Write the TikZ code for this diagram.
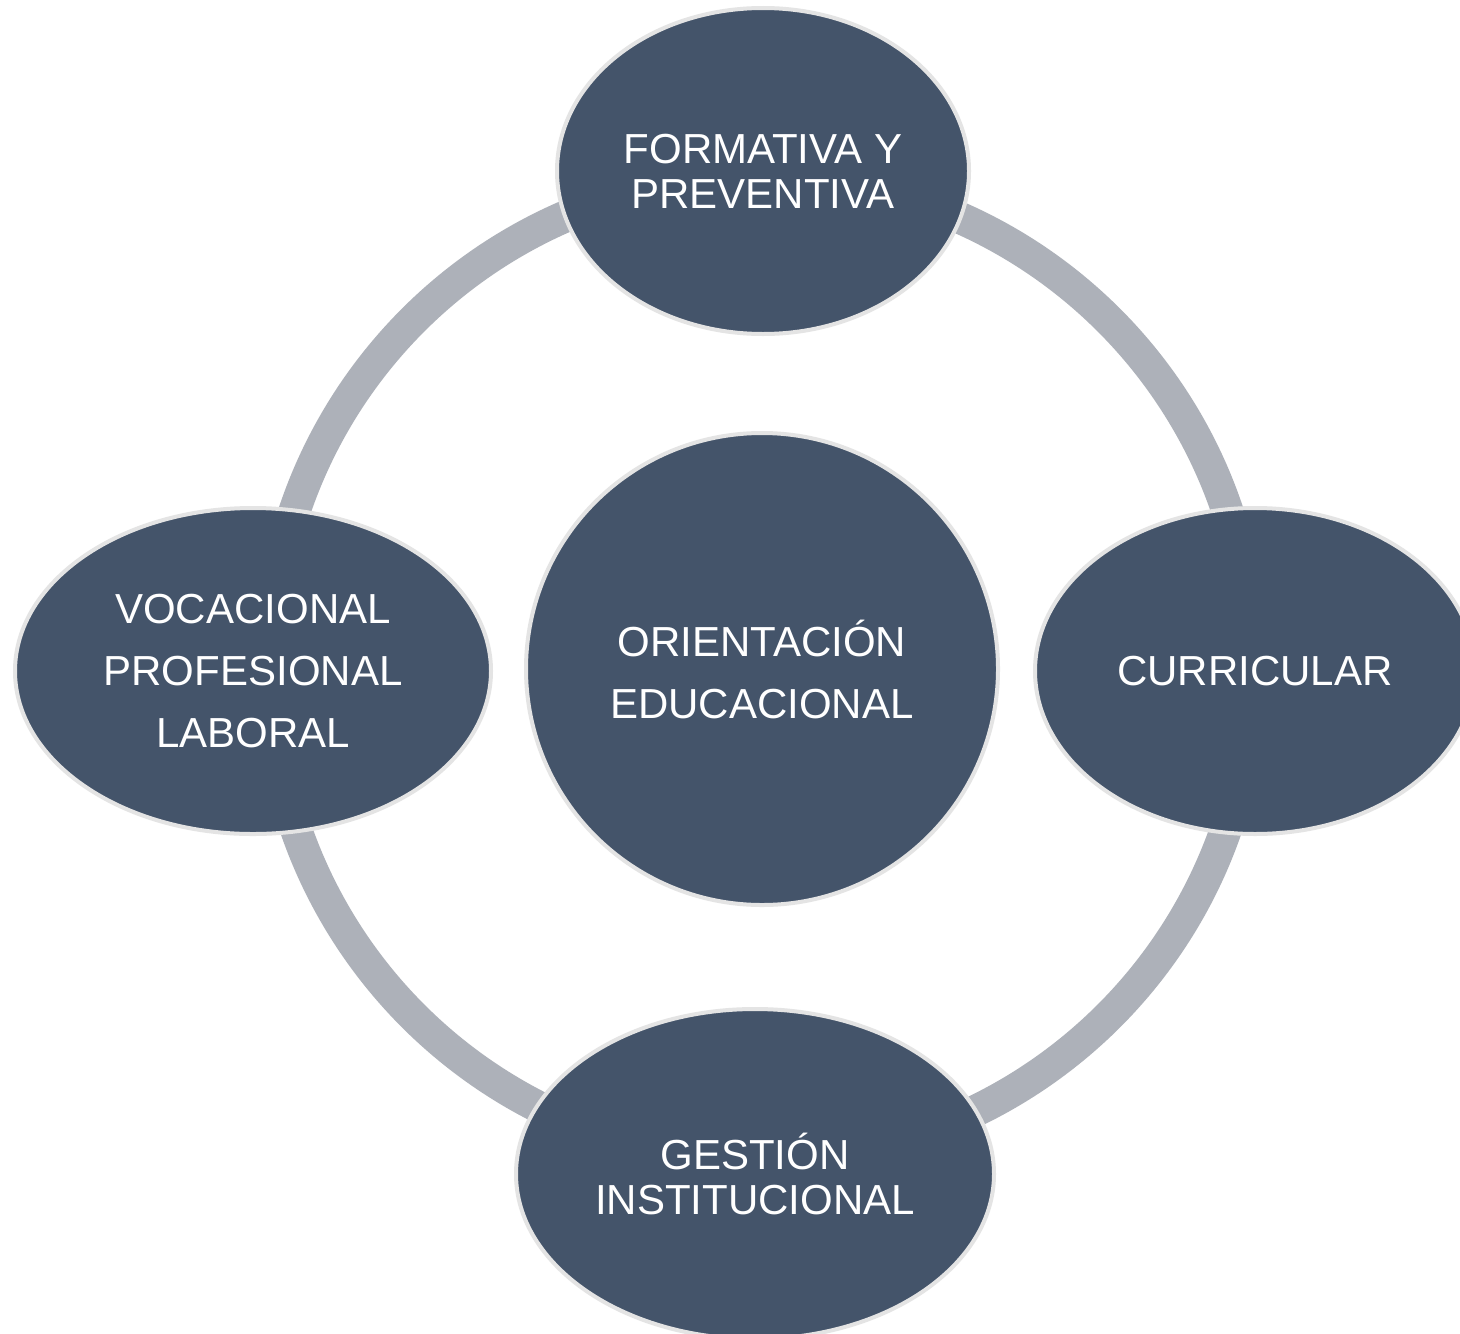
\documentclass[tikz,border=0pt]{standalone}
\usepackage{fontspec}
\setmainfont{Liberation Sans}
\usetikzlibrary{shapes.geometric, positioning}

\definecolor{slate}{HTML}{44546A}
\definecolor{ringgray}{HTML}{ADB1B9}
\definecolor{rimgray}{HTML}{E4E4E4}

\begin{document}
\begin{tikzpicture}[x=0.5pt, y=-0.5pt,
  bubble/.style={ellipse, draw=rimgray, line width=2pt, fill=slate, text=white, align=center, inner sep=0pt},
  tight/.style={font=\fontsize{21}{22.5}\selectfont},
  loose/.style={font=\fontsize{21}{31}\selectfont},
  ringline/.style={ringgray, line width=16pt}
]

% Frame of the picture
\clip (0,0) rectangle (1460,1333);
\fill[white] (0,0) rectangle (1460,1333);

% Ring behind the nodes
\coordinate (hub) at (761,668);
\draw[ringline] (hub) circle[radius=246pt];

% Outer nodes
\node[bubble, tight, minimum width=206pt, minimum height=163pt] (formativa) at (763,171) {FORMATIVA Y\\PREVENTIVA};
\node[bubble, tight, minimum width=220pt, minimum height=163pt] (curricular) at (1255,671) {CURRICULAR};
\node[bubble, tight, minimum width=239pt, minimum height=165pt] (gestion) at (755,1174) {GESTIÓN\\INSTITUCIONAL};
\node[bubble, loose, minimum width=238pt, minimum height=163pt] (vocacional) at (253,671) {VOCACIONAL\\PROFESIONAL\\LABORAL};

% Centre
\node[bubble, circle, loose, minimum size=236pt] (orientacion) at (762,669) {ORIENTACIÓN\\EDUCACIONAL};

\end{tikzpicture}
\end{document}
